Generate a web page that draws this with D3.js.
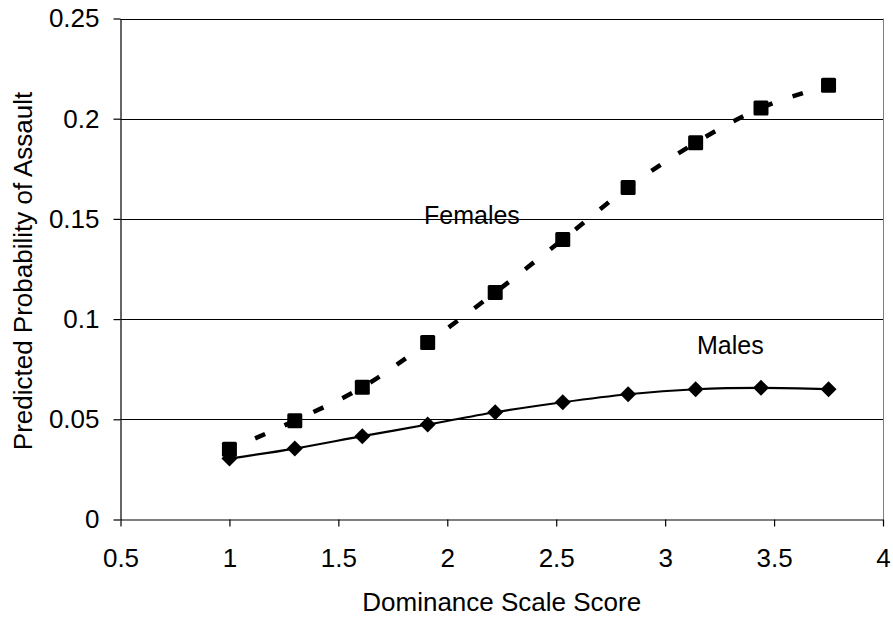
<!DOCTYPE html>
<html lang="en">
<head>
  <meta charset="UTF-8">
  <title>Predicted Probability of Assault</title>
  <script src="https://d3js.org/d3.v7.min.js"></script>
  <style>
    body { margin: 0; background: white; }
    svg { display: block; }
    text { font-family: "Liberation Sans", Arial, sans-serif; fill: black; }
  </style>
</head>
<body>
  <svg id="chart" width="893" height="619"></svg>
  <script>
    const dominance = [1, 1.3, 1.61, 1.91, 2.22, 2.53, 2.83, 3.14, 3.44, 3.75];
    const females = [0.035, 0.0493, 0.066, 0.0883, 0.1133, 0.1397, 0.1657, 0.188, 0.2054, 0.2167];
    const males = [0.0304, 0.0354, 0.0416, 0.0474, 0.0535, 0.0585, 0.0625, 0.065, 0.0657, 0.065];
    const xTicks = [0.5, 1, 1.5, 2, 2.5, 3, 3.5, 4];
    const yTicks = [0, 0.05, 0.1, 0.15, 0.2, 0.25];

    const plotLeft = 120.5, plotRight = 883, plotTop = 18.5, plotBottom = 519.5;

    const svg = d3.select("#chart");

    const x = d3.scaleLinear().domain([0.5, 4]).range([plotLeft, plotRight]);
    const y = d3.scaleLinear().domain([0, 0.25]).range([plotBottom, plotTop]);

    // gridlines
    svg.append("g")
      .selectAll("line")
      .data(yTicks.filter(d => d > 0))
      .join("line")
      .attr("x1", plotLeft).attr("x2", plotRight)
      .attr("y1", d => Math.round(y(d)) + 0.5).attr("y2", d => Math.round(y(d)) + 0.5)
      .attr("stroke", "#000").attr("stroke-width", 1);

    // right border
    svg.append("line")
      .attr("x1", plotRight + 0.5).attr("x2", plotRight + 0.5)
      .attr("y1", plotTop).attr("y2", plotBottom)
      .attr("stroke", "#808080");

    const xAxis = svg.append("g")
      .attr("transform", `translate(0,${plotBottom})`)
      .call(d3.axisBottom(x).tickValues(xTicks).tickFormat(d => String(d)).tickSize(7).tickSizeOuter(0).tickPadding(22));
    const yAxis = svg.append("g")
      .attr("transform", `translate(${plotLeft},0)`)
      .call(d3.axisLeft(y).tickValues(yTicks).tickFormat(d => String(d)).tickSize(7).tickSizeOuter(0).tickPadding(14));

    [xAxis, yAxis].forEach(g => {
      g.selectAll("text").attr("font-size", 26).attr("font-family", "Liberation Sans, Arial, sans-serif").attr("fill", "#000");
      g.selectAll("line, path").attr("stroke", "#000").attr("stroke-width", 1.2);
    });

    // axis titles
    svg.append("text")
      .attr("x", (plotLeft + plotRight) / 2).attr("y", 611)
      .attr("text-anchor", "middle").attr("font-size", 26)
      .text("Dominance Scale Score");
    svg.append("text")
      .attr("transform", `translate(32,${(plotTop + plotBottom) / 2 + 2}) rotate(-90)`)
      .attr("text-anchor", "middle").attr("font-size", 26)
      .text("Predicted Probability of Assault");

    const line = d3.line()
      .x((d, i) => x(dominance[i]))
      .y(d => y(d))
      .curve(d3.curveCatmullRom.alpha(0.5));

    // females: dashed, squares
    svg.append("path")
      .attr("d", line(females))
      .attr("fill", "none").attr("stroke", "#000")
      .attr("stroke-width", 4.5)
      .attr("stroke-dasharray", "11,21")
      .attr("stroke-dashoffset", 4);
    svg.append("g").selectAll("rect")
      .data(females)
      .join("rect")
      .attr("x", (d, i) => x(dominance[i]) - 7.5)
      .attr("y", d => y(d) - 7.5)
      .attr("width", 15).attr("height", 15)
      .attr("rx", 1.5)
      .attr("fill", "#000");

    // males: solid, diamonds
    svg.append("path")
      .attr("d", line(males))
      .attr("fill", "none").attr("stroke", "#000")
      .attr("stroke-width", 2.2);
    svg.append("g").selectAll("path")
      .data(males)
      .join("path")
      .attr("transform", (d, i) => `translate(${x(dominance[i])},${y(d)})`)
      .attr("d", "M0,-8L8,0L0,8L-8,0Z")
      .attr("fill", "#000");

    // series labels
    svg.append("text").attr("x", 424).attr("y", 224).attr("font-size", 25).text("Females");
    svg.append("text").attr("x", 697).attr("y", 354).attr("font-size", 25).text("Males");
  </script>
</body>
</html>
